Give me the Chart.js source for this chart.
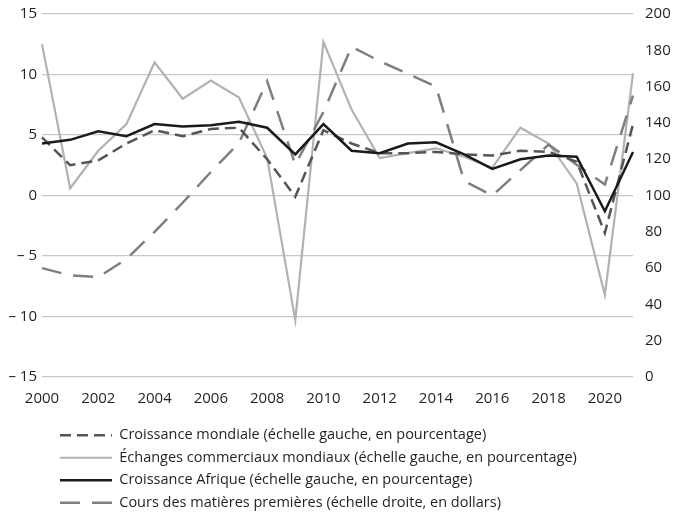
<!DOCTYPE html>
<html>
<head>
<meta charset="utf-8">
<script src="https://cdn.jsdelivr.net/npm/chart.js@4/dist/chart.umd.min.js"></script>
<style>
  html, body { margin: 0; padding: 0; background: #fff; }
  #wrap { width: 678px; height: 512px; }
</style>
</head>
<body>
<div id="wrap"><canvas id="c"></canvas></div>
<script>
var years = ['2000', '2001', '2002', '2003', '2004', '2005', '2006', '2007', '2008', '2009', '2010',
    '2011', '2012', '2013', '2014', '2015', '2016', '2017', '2018', '2019', '2020', '2021'];

// échelle gauche, en pourcentage
var croissanceMondiale = [4.8, 2.5, 2.9, 4.3, 5.4, 4.9, 5.5, 5.6, 3.0, -0.1, 5.4,
    4.3, 3.5, 3.5, 3.6, 3.4, 3.3, 3.7, 3.6, 2.8, -3.1, 5.9];
var echangesMondiaux = [12.5, 0.6, 3.7, 5.9, 11.0, 8.0, 9.5, 8.1, 3.1, -10.3, 12.7,
    7.1, 3.1, 3.5, 3.9, 3.2, 2.3, 5.6, 4.3, 1.0, -8.2, 10.1];
var croissanceAfrique = [4.3, 4.6, 5.3, 4.9, 5.9, 5.7, 5.8, 6.1, 5.6, 3.4, 5.9,
    3.7, 3.5, 4.3, 4.4, 3.4, 2.2, 3.0, 3.3, 3.2, -1.3, 3.6];
// échelle droite, en dollars
var coursMatieres = [60, 56, 55, 65, 80, 96, 113, 129, 163, 117, 146,
    182, 174, 167, 160, 108, 100, 114, 128, 117, 106, 155];

var leftTicks = { min: -15, max: 15, step: 5 };
var rightTicks = { min: 0, max: 200, step: 20 };

var FONT = "'Open Sans', 'Noto Sans', sans-serif";
var TEXT = '#231f20';

// push the legend block right and down, like the reference
var legendShift = {
    id: 'legendShift',
    afterLayout: function (chart) {
        chart.legend.left += 52;
        chart.legend.top += 8;
        chart.legend.bottom += 8;
    }
};

// legend samples: take dash/width/colour from the dataset line, not the point
function legendLabels(chart) {
    var items = Chart.defaults.plugins.legend.labels.generateLabels(chart);
    items.forEach(function (it) {
        var ds = chart.data.datasets[it.datasetIndex];
        it.lineDash = ds.borderDash || [];
        it.lineWidth = ds.borderWidth;
        it.strokeStyle = ds.borderColor;
        it.fillStyle = ds.borderColor;
        it.pointStyle = 'line';
    });
    return items;
}

new Chart(document.getElementById('c'), {
    type: 'line',
    data: {
        labels: years,
        datasets: [
            {
                label: 'Croissance mondiale (échelle gauche, en pourcentage)',
                data: croissanceMondiale,
                yAxisID: 'y',
                borderColor: '#555555',
                borderWidth: 2.5,
                borderDash: [11, 6],
                order: 1
            },
            {
                label: 'Échanges commerciaux mondiaux (échelle gauche, en pourcentage)',
                data: echangesMondiaux,
                yAxisID: 'y',
                borderColor: '#b2b2b2',
                borderWidth: 2.2,
                order: 3
            },
            {
                label: 'Croissance Afrique (échelle gauche, en pourcentage)',
                data: croissanceAfrique,
                yAxisID: 'y',
                borderColor: '#1a1a1a',
                borderWidth: 2.5,
                order: 0
            },
            {
                label: 'Cours des matières premières (échelle droite, en dollars)',
                data: coursMatieres,
                yAxisID: 'y1',
                borderColor: '#7f7f7f',
                borderWidth: 2.5,
                borderDash: [20, 12],
                order: 2
            }
        ]
    },
    plugins: [legendShift],
    options: {
        responsive: true,
        maintainAspectRatio: false,
        animation: false,
        elements: {
            point: { radius: 0, hoverRadius: 0 },
            line: { tension: 0, fill: false, borderJoinStyle: 'miter' }
        },
        layout: { padding: { top: 9, left: 0, right: 0, bottom: 0 } },
        plugins: {
            tooltip: { enabled: false },
            legend: {
                position: 'bottom',
                align: 'start',
                labels: {
                    usePointStyle: true,
                    pointStyle: 'line',
                    pointStyleWidth: 52,
                    boxWidth: 52,
                    padding: 8,
                    color: TEXT,
                    font: { family: FONT, size: 14.5 },
                    generateLabels: legendLabels,
                    sort: function (a, b) { return a.datasetIndex - b.datasetIndex; }
                }
            }
        },
        scales: {
            x: {
                type: 'category',
                offset: false,
                grid: { display: false },
                border: { display: false },
                ticks: {
                    autoSkip: false,
                    maxRotation: 0,
                    padding: 5,
                    color: TEXT,
                    font: { family: FONT, size: 15 },
                    callback: function (v, i) { return i % 2 ? '' : years[i]; }
                },
                afterFit: function (s) { s.height = 35; }
            },
            y: {
                position: 'left',
                min: leftTicks.min,
                max: leftTicks.max,
                grid: { color: '#c8c8c8', lineWidth: 1.3, drawTicks: false },
                border: { display: false },
                ticks: {
                    stepSize: leftTicks.step,
                    padding: 5,
                    color: TEXT,
                    font: { family: FONT, size: 15 },
                    callback: function (v) { return v < 0 ? '\u2013 ' + (-v) : String(v); }
                },
                afterFit: function (s) { s.width = 42; }
            },
            y1: {
                position: 'right',
                min: rightTicks.min,
                max: rightTicks.max,
                grid: { display: false },
                border: { display: false },
                ticks: {
                    stepSize: rightTicks.step,
                    padding: 4,
                    color: TEXT,
                    font: { family: FONT, size: 15 }
                },
                afterFit: function (s) { s.width = 45; }
            }
        }
    }
});
</script>
</body>
</html>
